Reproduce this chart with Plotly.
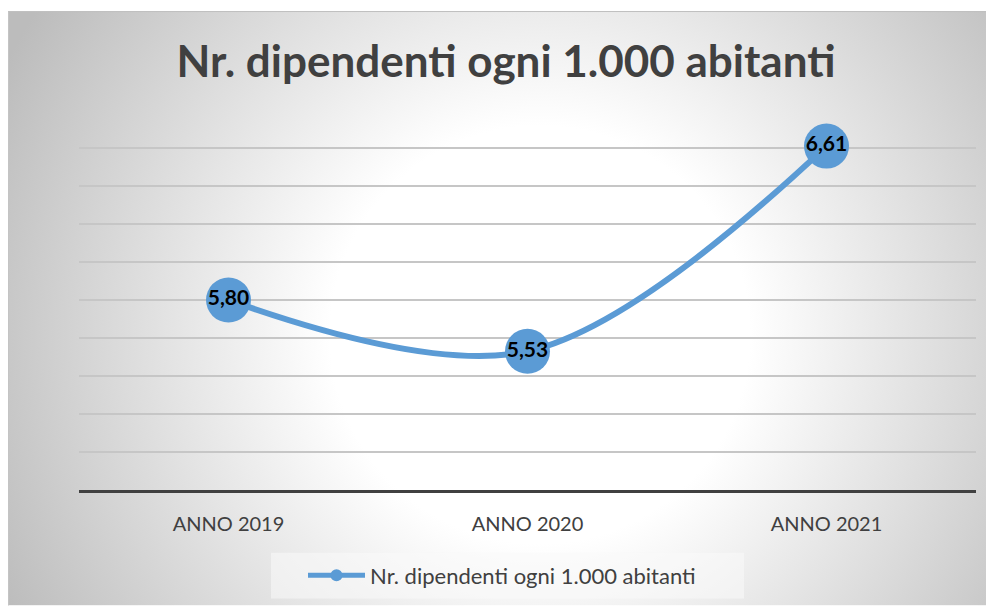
import base64
import plotly.graph_objects as go

# data
anni = ["ANNO 2019", "ANNO 2020", "ANNO 2021"]
dipendenti = [5.80, 5.53, 6.61]
serie_nome = "Nr. dipendenti ogni 1.000 abitanti"
titolo = "Nr. dipendenti ogni 1.000 abitanti"

# the page body has an 8px margin, so the figure sits at (8, 8)
W, H = 986, 600
L, R, T, B = 71, 18, 102, 116
pw, ph = W - L - R, H - T - B

blu = "#5B9BD5"
grigio_testo = "#404040"
font = "Lato, 'Open Sans', sans-serif"

# radial gradient background like the Excel chart area
svg = (
    "<svg xmlns='http://www.w3.org/2000/svg' width='986' height='597' viewBox='0 0 986 597' "
    "preserveAspectRatio='none'>"
    "<defs><radialGradient id='g' gradientUnits='userSpaceOnUse' cx='532' cy='325' r='600'>"
    "<stop offset='0' stop-color='#ffffff'/>"
    "<stop offset='0.35' stop-color='#ffffff'/>"
    "<stop offset='1' stop-color='#bcbcbc'/>"
    "</radialGradient></defs>"
    "<rect width='986' height='597' fill='url(#g)'/></svg>"
)
sfondo = "data:image/svg+xml;base64," + base64.b64encode(svg.encode()).decode()


def px_x(v):
    return (v - L) / pw


def px_y(v):
    return (H - B - v) / ph


fig = go.Figure()
fig.add_trace(go.Scatter(
    x=anni, y=dipendenti, name=serie_nome,
    mode="lines+markers+text",
    line=dict(color=blu, width=6, shape="spline", smoothing=1.0),
    marker=dict(color=blu, size=45),
    texttemplate="%{y:.2f}", textposition="middle center",
    textfont=dict(family=font, size=21, color="black", weight="bold"),
    cliponaxis=False,
))

fig.update_layout(
    width=W, height=H,
    margin=dict(l=L, r=R, t=T, b=B),
    paper_bgcolor="white", plot_bgcolor="rgba(0,0,0,0)",
    separators=",.",
    title=dict(text=titolo, x=498 / W, xanchor="center",
               y=1 - 54 / H, yanchor="middle",
               font=dict(family=font, size=44, color=grigio_testo, weight="bold")),
    showlegend=True,
    legend=dict(orientation="h", x=px_x(494), xanchor="center", y=px_y(570), yanchor="middle",
                bgcolor="rgba(0,0,0,0)", font=dict(family=font, size=22, color=grigio_testo),
                itemsizing="constant", itemwidth=57),
    images=[dict(source=sfondo, xref="paper", yref="paper",
                 x=px_x(0), y=px_y(3), sizex=W / pw, sizey=(H - 3) / ph,
                 xanchor="left", yanchor="top", sizing="stretch", layer="below")],
    shapes=[
        # chart area border (top and left edges are the visible ones)
        dict(type="line", xref="paper", yref="paper",
             x0=px_x(0), x1=px_x(W), y0=px_y(3), y1=px_y(3),
             line=dict(color="#bfbfbf", width=1), layer="below"),
        dict(type="line", xref="paper", yref="paper",
             x0=px_x(0.5), x1=px_x(0.5), y0=px_y(3), y1=px_y(H),
             line=dict(color="#c4c4c4", width=1), layer="below"),
        # legend box
        dict(type="rect", xref="paper", yref="paper",
             x0=px_x(263), x1=px_x(736), y0=px_y(593), y1=px_y(547),
             fillcolor="rgba(250,250,250,0.55)", line=dict(width=0), layer="below"),
    ],
)

fig.update_xaxes(range=[-0.5, 2.5], showgrid=False, showline=True, linecolor=grigio_testo,
                 linewidth=3, ticks="", ticklabelstandoff=14,
                 tickfont=dict(family=font, size=20, color=grigio_testo))
fig.update_yaxes(range=[4.8, 6.8], dtick=0.2, showticklabels=False, showgrid=True,
                 gridcolor="#c6c6c6", gridwidth=1.5, zeroline=False)

fig.write_html("out.html")
